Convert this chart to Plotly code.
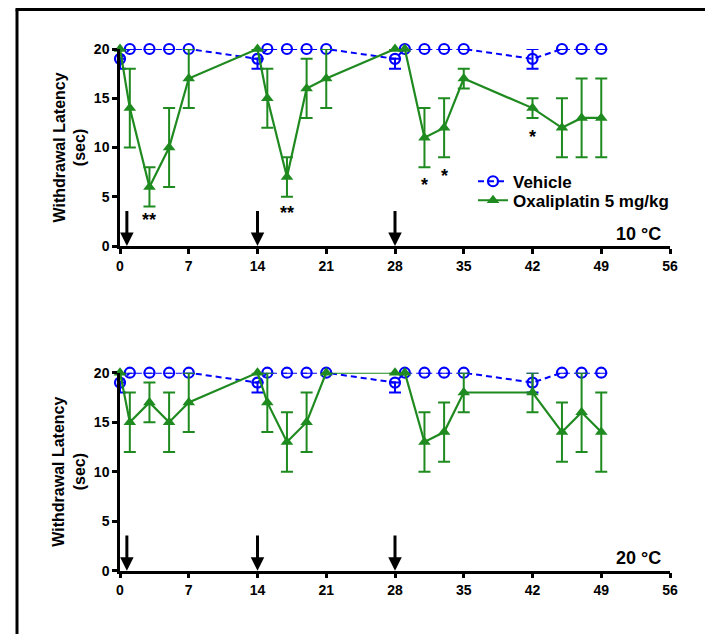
import plotly.graph_objects as go

# ---------------- data ----------------
days = [0, 1, 3, 5, 7, 14, 15, 17, 19, 21, 28, 29, 31, 33, 35, 42, 45, 47, 49]

veh_10 = [19, 20, 20, 20, 20, 19, 20, 20, 20, 20, 19, 20, 20, 20, 20, 19, 20, 20, 20]
veh_10_up = [0, 0, 0, 0, 0, 0, 0, 0, 0, 0, 0, 0, 0, 0, 0, 1, 0, 0, 0]
veh_10_dn = [1, 0, 0, 0, 0, 1, 0, 0, 0, 0, 1, 0, 0, 0, 0, 1, 0, 0, 0]
oxa_10 = [20, 14, 6, 10, 17, 20, 15, 7, 16, 17, 20, 20, 11, 12, 17, 14, 12, 13, 13]
oxa_10_err = [0, 4, 2, 4, 3, 0, 3, 2, 3, 3, 0, 0, 3, 3, 1, 1, 3, 4, 4]

veh_20 = [19, 20, 20, 20, 20, 19, 20, 20, 20, 20, 19, 20, 20, 20, 20, 19, 20, 20, 20]
veh_20_up = [0, 0, 0, 0, 0, 0, 0, 0, 0, 0, 0, 0, 0, 0, 0, 1, 0, 0, 0]
veh_20_dn = [1, 0, 0, 0, 0, 1, 0, 0, 0, 0, 1, 0, 0, 0, 0, 1, 0, 0, 0]
oxa_20 = [20, 15, 17, 15, 17, 20, 17, 13, 15, 20, 20, 20, 13, 14, 18, 18, 14, 16, 14]
oxa_20_err = [0, 3, 2, 3, 3, 0, 3, 3, 3, 0, 0, 0, 3, 3, 2, 2, 3, 4, 4]

x_ticks = [0, 7, 14, 21, 28, 35, 42, 49, 56]
y_ticks = [0, 5, 10, 15, 20]

arrow_days = [0.7, 14, 28]
arrow_top = 3.7

star_days = [3, 17, 31, 33, 42]
star_y = [2.9, 3.65, 6.5, 7.4, 11.4]
star_text = ["**", "**", "*", "*", "*"]

panel_labels = ["10 °C", "20 °C"]
series_names = ["Vehicle", "Oxaliplatin 5 mg/kg"]

# ---------------- styling ----------------
BLUE = "#0000FF"
GREEN = "#1F8A1F"
FONT = "Liberation Sans, Arial, sans-serif"
W, H = 713, 634
OX, OY = 8, 8          # page body margin
FW, FH = W - OX, H - OY


def px(p):
    return (p - OX) / FW


def py(p):
    return 1 - (p - OY) / FH


fig = go.Figure()

panels = [
    (veh_10, veh_10_up, veh_10_dn, oxa_10, oxa_10_err, "x", "y"),
    (veh_20, veh_20_up, veh_20_dn, oxa_20, oxa_20_err, "x2", "y2"),
]

for i, (veh, vup, vdn, oxa, oerr, xa, ya) in enumerate(panels):
    fig.add_trace(go.Scatter(
        x=days, y=veh, xaxis=xa, yaxis=ya, name=series_names[0],
        mode="lines+markers", showlegend=(i == 0), cliponaxis=False, legend="legend",
        line=dict(color=BLUE, width=2, dash="6px,4px"),
        marker=dict(symbol="circle-open", size=10, color=BLUE, line=dict(width=2.2, color=BLUE)),
        error_y=dict(type="data", symmetric=False, array=vup, arrayminus=vdn,
                     color=BLUE, thickness=2, width=6),
    ))
    fig.add_trace(go.Scatter(
        x=days, y=oxa, xaxis=xa, yaxis=ya, name=series_names[1],
        mode="lines+markers", showlegend=(i == 0), cliponaxis=False, legend="legend2",
        line=dict(color=GREEN, width=2.2),
        marker=dict(symbol="triangle-up", size=11, color=GREEN),
        error_y=dict(type="data", array=oerr, color=GREEN, thickness=2, width=6),
    ))

xdom = [px(120), px(670)]
ydom_top = [py(246), py(49)]
ydom_bot = [py(570.7), py(372.7)]

axis_common = dict(
    showgrid=False, zeroline=False, showline=True, linecolor="black", linewidth=2.5,
    ticks="outside", ticklen=5, tickwidth=2.5, tickcolor="black", automargin=False,
    tickfont=dict(family=FONT, size=14, color="black", weight="bold"),
)

legend_common = dict(
    xanchor="left", yanchor="middle", bgcolor="rgba(0,0,0,0)", borderwidth=0,
    font=dict(family=FONT, size=17, color="black", weight="bold"),
)

fig.update_layout(
    width=FW, height=FH,
    margin=dict(l=0, r=0, t=0, b=0, autoexpand=False),
    paper_bgcolor="white", plot_bgcolor="white",
    showlegend=True,
    legend=dict(x=px(473), y=py(181.7), **legend_common),
    legend2=dict(x=px(473), y=py(200.7), **legend_common),
    xaxis=dict(domain=xdom, range=[0, 56], tickvals=x_ticks, anchor="y", **axis_common),
    yaxis=dict(domain=ydom_top, range=[0, 20], tickvals=y_ticks, anchor="x", **axis_common),
    xaxis2=dict(domain=xdom, range=[0, 56], tickvals=x_ticks, anchor="y2", **axis_common),
    yaxis2=dict(domain=ydom_bot, range=[0, 20], tickvals=y_ticks, anchor="x2", **axis_common),
)

annotations = []
for xa, ya in [("x", "y"), ("x2", "y2")]:
    for d in arrow_days:
        annotations.append(dict(
            x=d, y=0, ax=d, ay=arrow_top, xref=xa, yref=ya, axref=xa, ayref=ya,
            text="", showarrow=True, arrowhead=2, arrowsize=0.9, arrowwidth=3,
            arrowcolor="black",
        ))

for d, yy, t in zip(star_days, star_y, star_text):
    annotations.append(dict(
        x=d, y=yy, xref="x", yref="y", text=t, showarrow=False,
        font=dict(family=FONT, size=18, color="black", weight="bold"),
        xanchor="center", yanchor="middle", yshift=-3,
    ))

for lbl, xa, ya in zip(panel_labels, ["x", "x2"], ["y", "y2"]):
    annotations.append(dict(
        x=0.988, y=0.062, xref=xa + " domain", yref=ya + " domain", text=lbl,
        showarrow=False, xanchor="right", yanchor="middle",
        font=dict(family=FONT, size=18, color="black", weight="bold"),
    ))
    annotations.append(dict(
        x=px(69), y=0.5, xref="paper", yref=ya + " domain",
        text="Withdrawal Latency<br>(sec)", textangle=-90, showarrow=False,
        xanchor="center", yanchor="middle",
        font=dict(family=FONT, size=16, color="black", weight="bold"),
    ))

fig.update_layout(annotations=annotations)

# outer frame (top and left edges visible)
frame_top = 1 - 1.5 / FH
fig.add_shape(type="line", xref="paper", yref="paper", x0=px(17) - 1.5 / FW, x1=1,
              y0=frame_top, y1=frame_top, line=dict(color="black", width=3))
fig.add_shape(type="line", xref="paper", yref="paper", x0=px(17), x1=px(17), y0=frame_top, y1=0,
              line=dict(color="black", width=3))

fig.write_html("out.html")
